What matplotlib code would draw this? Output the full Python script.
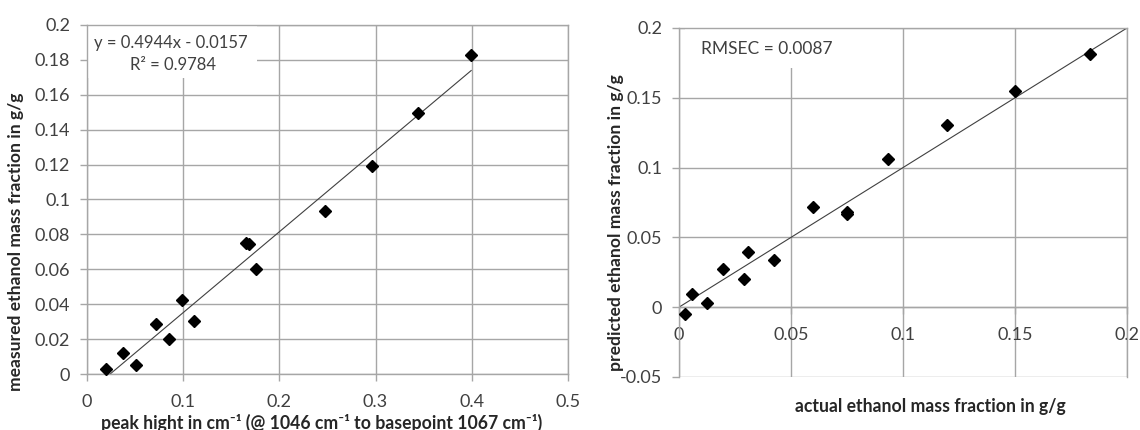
import numpy as np
import matplotlib
matplotlib.use("Agg")
import matplotlib.pyplot as plt
from matplotlib.patches import Rectangle

plt.rcParams["font.family"] = ["Lato", "DejaVu Sans"]

# left panel: peak height vs measured ethanol
peak_height = [0.0197, 0.0378, 0.0507, 0.0715, 0.0851, 0.0991, 0.1112,
               0.1657, 0.1687, 0.1759, 0.2477, 0.2958, 0.3445, 0.3994]
measured = [0.0027, 0.0122, 0.0053, 0.0288, 0.0199, 0.0422, 0.0306,
            0.0753, 0.0745, 0.0600, 0.0934, 0.1194, 0.1498, 0.1828]

# right panel: actual vs predicted
actual = [0.0028, 0.0059, 0.0125, 0.0198, 0.0291, 0.0306, 0.0424,
          0.0600, 0.0748, 0.0751, 0.0932, 0.1197, 0.1498, 0.1833]
predicted = [-0.0050, 0.0097, 0.0033, 0.0271, 0.0202, 0.0392, 0.0335,
             0.0717, 0.0679, 0.0665, 0.1064, 0.1306, 0.1546, 0.1817]

left_xticks = [0, 0.1, 0.2, 0.3, 0.4, 0.5]
left_yticks = [0, 0.02, 0.04, 0.06, 0.08, 0.1, 0.12, 0.14, 0.16, 0.18, 0.2]
right_xticks = [0, 0.05, 0.1, 0.15, 0.2]
right_yticks = [-0.05, 0, 0.05, 0.1, 0.15, 0.2]

GRID = "#a6a6a6"
TXT = "#404040"
LBL = "#262626"


def fmt(v):
    return f"{v:g}"


def style(ax):
    ax.set_axisbelow(True)
    ax.grid(True, color=GRID, lw=1)
    for s in ax.spines.values():
        s.set_color(GRID)
        s.set_linewidth(1)
    ax.tick_params(direction="out", length=5, color=GRID, labelsize=13,
                   labelcolor=TXT, width=1)
    ax.tick_params(axis="y", pad=7)
    ax.tick_params(axis="x", pad=9.5)


fig = plt.figure(figsize=(11.4, 4.3), dpi=100)
ax1 = fig.add_axes([0.0763, 0.1302, 0.4219, 0.8117])
ax2 = fig.add_axes([0.5956, 0.1233, 0.3930, 0.8116])

# ---- left
style(ax1)
ax1.set_xlim(0, 0.5)
ax1.set_ylim(0, 0.2)
ax1.set_xticks(left_xticks)
ax1.set_xticklabels([fmt(v) for v in left_xticks])
ax1.set_yticks(left_yticks)
ax1.set_yticklabels([fmt(v) for v in left_yticks])

k, d = np.polyfit(peak_height, measured, 1)
xs = np.array([min(peak_height), max(peak_height)])
ax1.plot(xs, k * xs + d, color="#404040", lw=0.8, zorder=2)
ax1.plot(peak_height, measured, ls="none", marker="D", ms=6.6,
         color="black", zorder=3, clip_on=False)

ax1.add_patch(Rectangle((0, 0.848), 0.353, 0.152, transform=ax1.transAxes,
                        facecolor="white", edgecolor="none", zorder=1))
ax1.text(0.175, 0.948, "y = 0.4944x - 0.0157", transform=ax1.transAxes,
         ha="center", va="center", fontsize=12, color=TXT, zorder=4)
ax1.text(0.178, 0.885, "R² = 0.9784", transform=ax1.transAxes,
         ha="center", va="center", fontsize=12, color=TXT, zorder=4)

ax1.set_ylabel("measured ethanol mass fraction in g/g", fontsize=12.6,
               fontweight="bold", color=LBL)
ax1.yaxis.set_label_coords(-0.131, 0.378)
ax1.set_xlabel("peak hight in cm⁻¹ (@ 1046 cm⁻¹ to basepoint 1067 cm⁻¹)",
               fontsize=12.7, fontweight="bold", color=LBL)
ax1.xaxis.set_label_coords(0.487, -0.114)

# ---- right
style(ax2)
ax2.set_xlim(0, 0.2)
ax2.set_ylim(-0.05, 0.2)
ax2.set_xticks(right_xticks)
ax2.set_xticklabels([fmt(v) for v in right_xticks])
ax2.set_yticks(right_yticks)
ax2.set_yticklabels([fmt(v) for v in right_yticks])
ax2.spines["bottom"].set_position(("data", 0))

ax2.axline((0, 0), slope=1, color="#404040", lw=0.8, zorder=2)
ax2.plot(actual, predicted, ls="none", marker="D", ms=6.6,
         color="black", zorder=3, clip_on=False)

ax2.add_patch(Rectangle((0.013, 0.885), 0.457, 0.115, transform=ax2.transAxes,
                        facecolor="white", edgecolor="none", zorder=1))
ax2.text(0.196, 0.94, "RMSEC = 0.0087", transform=ax2.transAxes,
         ha="center", va="center", fontsize=12.5, color=TXT, zorder=4)

ax2.set_ylabel("predicted ethanol mass fraction in g/g", fontsize=12.6,
               fontweight="bold", color=LBL)
ax2.yaxis.set_label_coords(-0.123, 0.441)
ax2.set_xlabel("actual ethanol mass fraction in g/g", fontsize=12.7,
               fontweight="bold", color=LBL)
ax2.xaxis.set_label_coords(0.56, -0.06)

fig.savefig("out.png", dpi=100, facecolor="white")
